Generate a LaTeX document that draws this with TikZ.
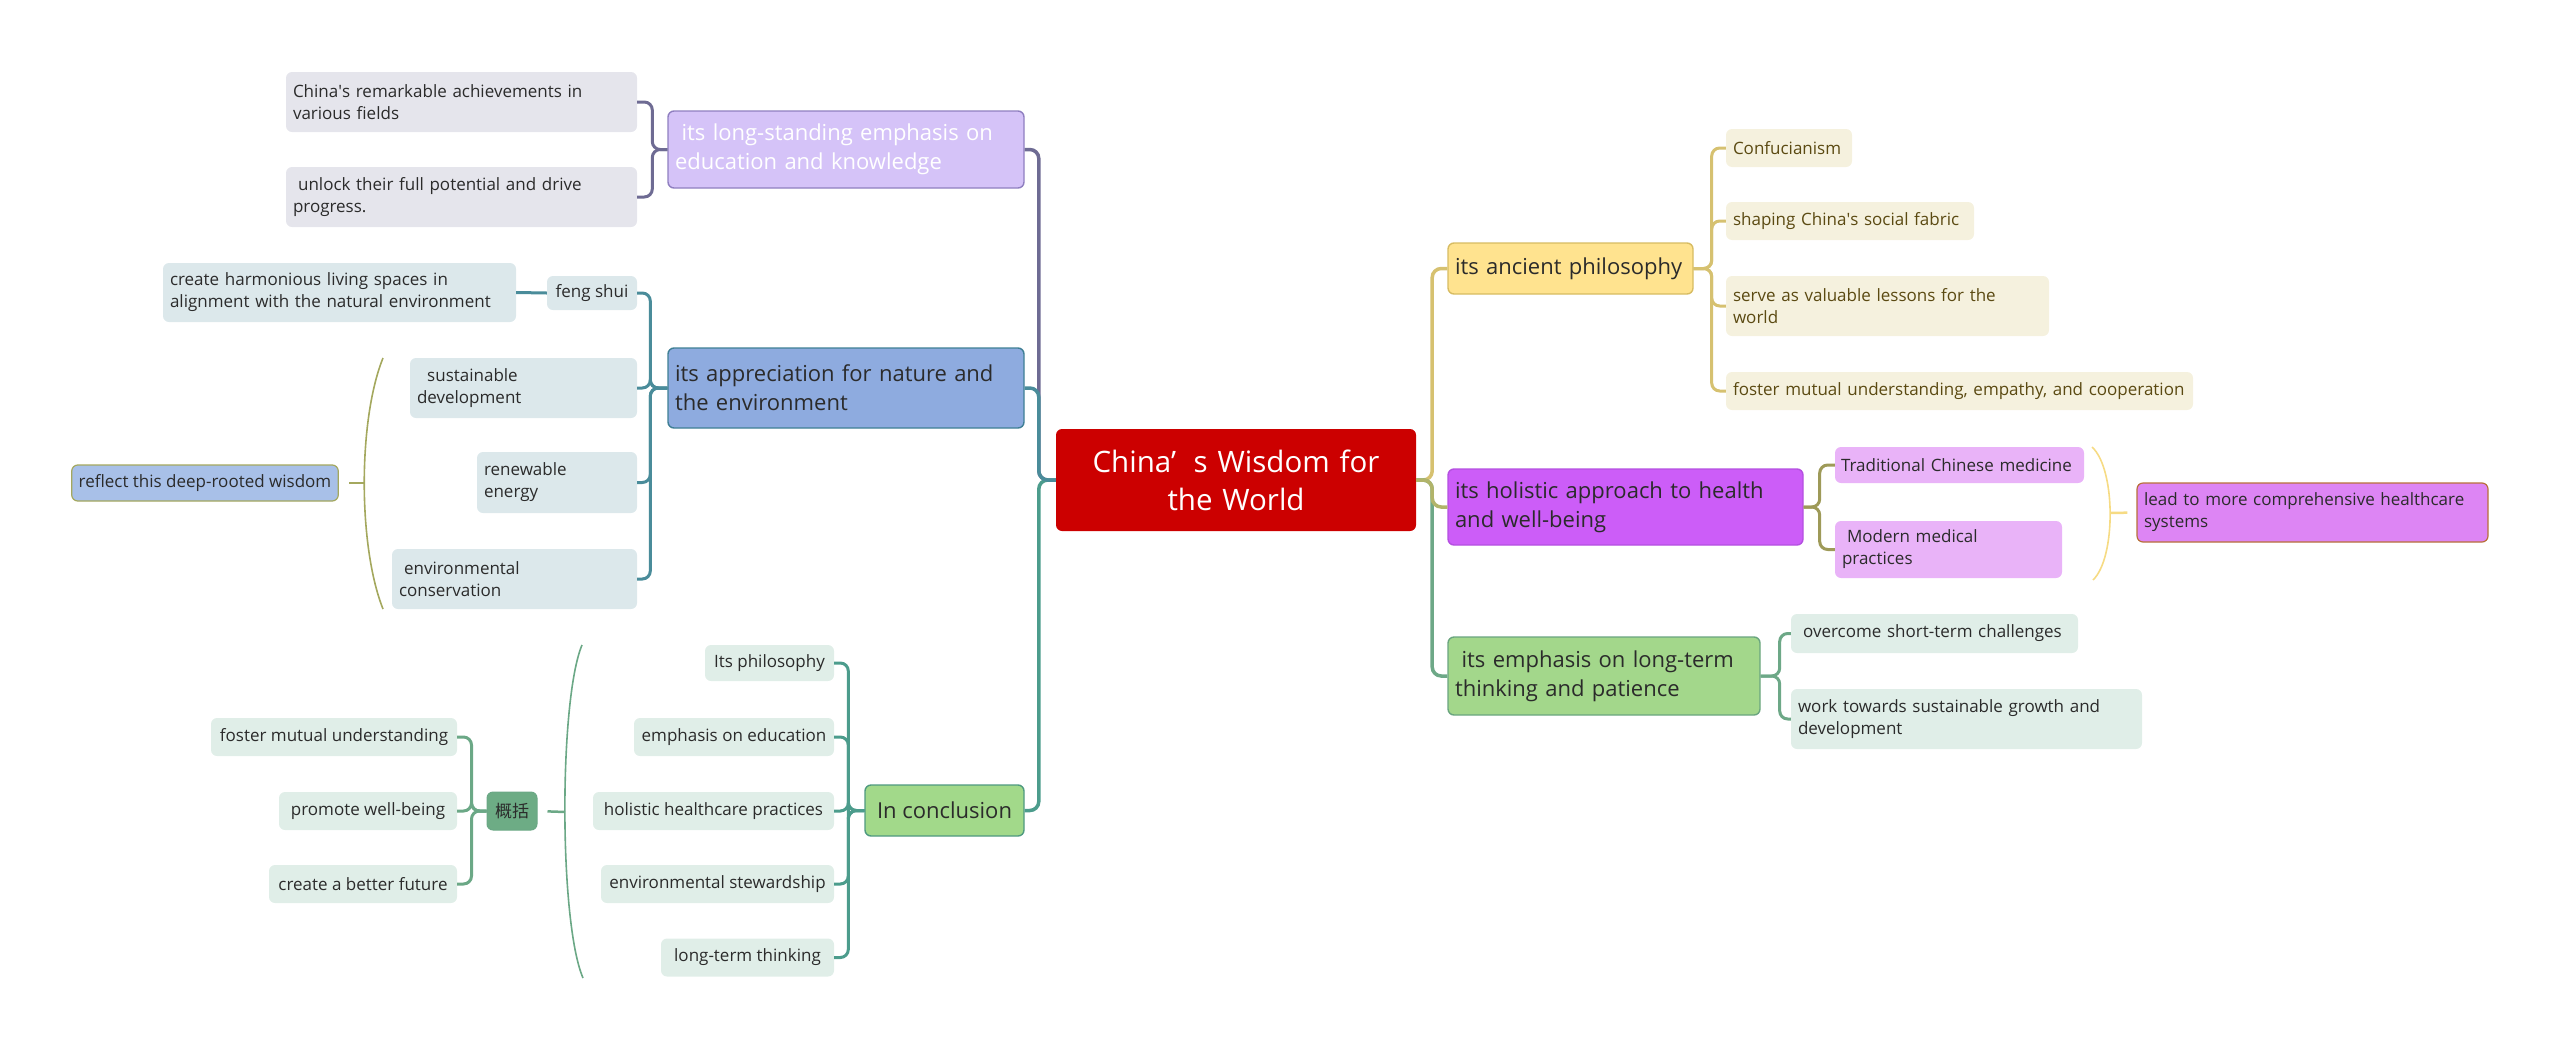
\documentclass[tikz,border=0pt]{standalone}
\usepackage{fontspec}
\setmainfont{Open Sans}
\newfontfamily\cjk{Noto Sans CJK SC}
\usepackage{tikz}
\usetikzlibrary{positioning}
\definecolor{ink}{RGB}{43,43,43}
\definecolor{rootred}{RGB}{204,0,0}
\definecolor{lav}{RGB}{213,195,248}
\definecolor{lavdk}{RGB}{143,127,192}
\definecolor{edubr}{RGB}{110,107,147}
\definecolor{graylf}{RGB}{229,229,236}
\definecolor{natblue}{RGB}{142,171,223}
\definecolor{natdk}{RGB}{63,127,149}
\definecolor{natbr}{RGB}{74,140,154}
\definecolor{natlf}{RGB}{220,232,235}
\definecolor{reflblue}{RGB}{168,192,232}
\definecolor{olive}{RGB}{164,168,94}
\definecolor{conclgr}{RGB}{162,217,138}
\definecolor{concldk}{RGB}{79,154,128}
\definecolor{conclbr}{RGB}{76,156,140}
\definecolor{greenlf}{RGB}{224,238,232}
\definecolor{sumgr}{RGB}{109,172,133}
\definecolor{sumbr}{RGB}{107,168,134}
\definecolor{ancyel}{RGB}{255,227,143}
\definecolor{ancdk}{RGB}{215,188,98}
\definecolor{ancbr}{RGB}{214,193,112}
\definecolor{anclf}{RGB}{245,241,222}
\definecolor{anctx}{RGB}{91,74,18}
\definecolor{holpur}{RGB}{204,93,248}
\definecolor{holdk}{RGB}{180,80,224}
\definecolor{holroot}{RGB}{177,180,106}
\definecolor{holbr}{RGB}{158,154,88}
\definecolor{hollf}{RGB}{233,179,248}
\definecolor{leadpur}{RGB}{221,133,244}
\definecolor{leaddk}{RGB}{184,112,58}
\definecolor{hbrace}{RGB}{246,219,132}
\definecolor{ltpgr}{RGB}{163,215,139}
\definecolor{ltpdk}{RGB}{106,165,127}
\definecolor{ltpbr}{RGB}{109,168,135}
\tikzset{
  topic/.style={rounded corners=6pt,line width=1.4pt,align=left,inner xsep=7pt,
    inner ysep=0pt,font=\fontsize{22}{29}\selectfont,text=ink},
  leaf/.style={rounded corners=6pt,align=left,inner xsep=7pt,inner ysep=0pt,
    font=\fontsize{17}{22}\selectfont,text=ink},
  branch/.style={line width=3.5pt,rounded corners=9pt},
  twig/.style={line width=3pt,rounded corners=8pt},
  brace/.style={line width=1.6pt}
}
\begin{document}
\begin{tikzpicture}[x=1pt,y=-1pt]
  \useasboundingbox (0,0) rectangle (2560,1050);
  \node[fill=rootred,rounded corners=6pt,align=center,text=white,inner xsep=8pt,text width=344pt,
    minimum height=102pt,font=\fontsize{29.5}{38}\selectfont] (root) at (1236,480)
    {China’\hspace{0.6em}s Wisdom for\\the World};
  % left side
  \node[topic,fill=lav,draw=lavdk,text=white,text width=342pt,minimum height=77pt] (edu) at (846,149.5)
    {\hspace*{0.3em}its long-standing emphasis on\\education and knowledge};
  \node[leaf,fill=graylf,text width=337pt,minimum height=60pt] (ach) at (461.5,102)
    {China\textquotesingle s remarkable achievements in\\various fields};
  \node[leaf,fill=graylf,text width=337pt,minimum height=60pt] (unl) at (461.5,197)
    {\hspace*{0.3em}unlock their full potential and drive\\progress.};
  \node[topic,fill=natblue,draw=natdk,text width=342pt,minimum height=80pt] (nat) at (846,388)
    {its appreciation for nature and\\the environment};
  \node[leaf,fill=natlf,minimum width=90pt,minimum height=34pt] (feng) at (592,293) {feng shui};
  \node[leaf,fill=natlf,text width=339pt,minimum height=59pt] (harm) at (339.5,292.5)
    {create harmonious living spaces in\\alignment with the natural environment};
  \node[leaf,fill=natlf,text width=213pt,minimum height=60pt] (sust) at (523.5,388)
    {\hspace*{0.6em}sustainable\\development};
  \node[leaf,fill=natlf,text width=146pt,minimum height=61pt] (renew) at (557,482.5)
    {renewable\\energy};
  \node[leaf,fill=natlf,text width=231pt,minimum height=60pt] (envc) at (514.5,579)
    {\hspace*{0.3em}environmental\\conservation};
  \node[leaf,fill=reflblue,draw=olive,line width=1.2pt,minimum width=266pt,minimum height=36pt] (refl) at (205,483)
    {reflect this deep-rooted wisdom};
  \node[topic,fill=conclgr,draw=concldk,minimum width=159pt,minimum height=51pt] (concl) at (944.5,810.5)
    {In conclusion};
  \node[leaf,fill=greenlf,minimum width=129pt,minimum height=36pt] (phil) at (769.5,663) {Its philosophy};
  \node[leaf,fill=greenlf,minimum width=200pt,minimum height=38pt] (edus) at (734,737) {emphasis on education};
  \node[leaf,fill=greenlf,minimum width=241pt,minimum height=38pt] (heals) at (713.5,811) {holistic healthcare practices};
  \node[leaf,fill=greenlf,minimum width=233pt,minimum height=38pt] (envs) at (717.5,884) {environmental stewardship};
  \node[leaf,fill=greenlf,minimum width=173pt,minimum height=38pt] (lts) at (747.5,957.5) {long-term thinking};
  \node[leaf,fill=sumgr,draw=sumbr,line width=1pt,minimum width=50pt,minimum height=38pt] (summ) at (512,811) {\cjk 概括};
  \node[leaf,fill=greenlf,minimum width=246pt,minimum height=38pt] (fmu) at (334,737) {foster mutual understanding};
  \node[leaf,fill=greenlf,minimum width=178pt,minimum height=38pt] (pwb) at (368,811) {promote well-being};
  \node[leaf,fill=greenlf,minimum width=188pt,minimum height=38pt] (cbf) at (363,884) {create a better future};
  % right side
  \node[topic,fill=ancyel,draw=ancdk,text width=231pt,minimum height=51pt] (anc) at (1570.5,268.5)
    {its ancient philosophy};
  \node[leaf,fill=anclf,text=anctx,text width=112pt,minimum height=38pt] (conf) at (1789,148) {Confucianism};
  \node[leaf,fill=anclf,text=anctx,text width=234pt,minimum height=38pt] (shap) at (1850,221) {shaping China\textquotesingle s social fabric};
  \node[leaf,fill=anclf,text=anctx,text width=309pt,minimum height=60pt] (serve) at (1887.5,306)
    {serve as valuable lessons for the\\world};
  \node[leaf,fill=anclf,text=anctx,text width=453pt,minimum height=38pt] (fost) at (1959.5,391)
    {foster mutual understanding, empathy, and cooperation};
  \node[topic,fill=holpur,draw=holdk,text width=341pt,minimum height=76pt] (hol) at (1625.5,507)
    {its holistic approach to health\\and well-being};
  \node[leaf,fill=hollf,inner xsep=6pt,text width=237pt,minimum height=36pt] (tcm) at (1959.5,465) {Traditional Chinese medicine};
  \node[leaf,fill=hollf,text width=213pt,minimum height=57pt] (mod) at (1948.5,549.5)
    {\hspace*{0.3em}Modern medical\\practices};
  \node[leaf,fill=leadpur,draw=leaddk,line width=1.2pt,text width=337pt,minimum height=59pt] (lead) at (2312.5,512.5)
    {lead to more comprehensive healthcare\\systems};
  \node[topic,fill=ltpgr,draw=ltpdk,text width=298pt,minimum height=78pt] (ltp) at (1604,676)
    {\hspace*{0.3em}its emphasis on long-term\\thinking and patience};
  \node[leaf,fill=greenlf,text width=273pt,minimum height=39pt] (over) at (1934.5,633.5)
    {\hspace*{0.3em}overcome short-term challenges};
  \node[leaf,fill=greenlf,text width=337pt,minimum height=60pt] (work) at (1966.5,719)
    {work towards sustainable growth and\\development};

  \draw[branch,edubr] (root.west) -- ++(-17,0) |- (edu.east);
  \draw[branch,conclbr] (root.west) -- ++(-17,0) |- (concl.east);
  \draw[branch,natbr] (root.west) -- ++(-17,0) |- (nat.east);
  \draw[branch,ancbr] (root.east) -- ++(16,0) |- (anc.west);
  \draw[branch,ltpbr] (root.east) -- ++(16,0) |- (ltp.west);
  \draw[branch,holroot] (root.east) -- ++(16,0) |- (hol.west);

  \foreach \n in {ach,unl} \draw[twig,edubr] (edu.west) -- ++(-15,0) |- (\n.east);
  \foreach \n in {feng,sust,renew,envc} \draw[twig,natbr] (nat.west) -- ++(-17,0) |- (\n.east);
  \draw[twig,natbr] (feng.west) -- (harm.east);
  \foreach \n in {phil,edus,heals,envs,lts} \draw[twig,conclbr] (concl.west) -- ++(-16,0) |- (\n.east);
  \foreach \n in {fmu,pwb,cbf} \draw[twig,sumbr] (summ.west) -- ++(-15,0) |- (\n.east);
  \foreach \n in {conf,shap,serve,fost} \draw[twig,ancbr] (anc.east) -- ++(18,0) |- (\n.west);
  \foreach \n in {tcm,mod} \draw[twig,holbr] (hol.east) -- ++(16,0) |- (\n.west);
  \foreach \n in {over,work} \draw[twig,ltpbr] (ltp.east) -- ++(19,0) |- (\n.west);

  \coordinate (natTop) at (383,358);
  \coordinate (natTip) at (364,483);
  \coordinate (natBot) at (383,609);
  \draw[brace,olive] (natTop) .. controls (358,420) and (358,546) .. (natBot);
  \draw[brace,olive,line width=2.5pt,shorten >=10pt] (natTip) -- (refl.east);
  \coordinate (conTop) at (582,645);
  \coordinate (conTip) at (565,812);
  \coordinate (conBot) at (583,978);
  \draw[brace,sumbr] (conTop) .. controls (559,700) and (559,922) .. (conBot);
  \draw[brace,sumbr,line width=2.5pt,shorten >=10pt] (conTip) -- (summ.east);
  \coordinate (healTop) at (2092,447);
  \coordinate (healTip) at (2110,513);
  \coordinate (healBot) at (2093,580);
  \draw[brace,hbrace] (healTop) .. controls (2116,469) and (2116,558) .. (healBot);
  \draw[brace,hbrace,line width=2.5pt,shorten >=9pt] (healTip) -- (lead.west);
\end{tikzpicture}
\end{document}
